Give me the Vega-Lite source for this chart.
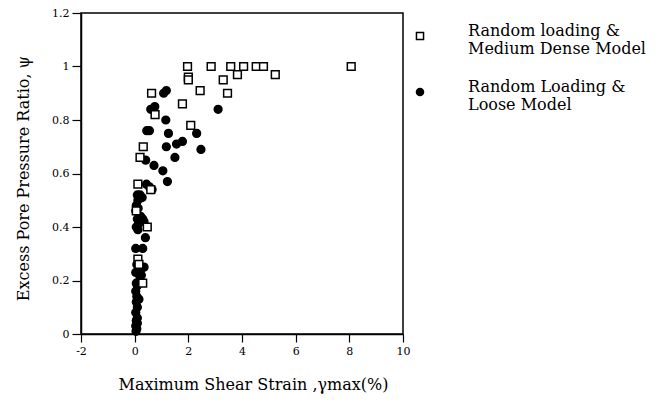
{
  "$schema": "https://vega.github.io/schema/vega-lite/v6.json",
  "width": 322,
  "height": 321,
  "autosize": {"type": "none"},
  "padding": {"left": 81, "top": 13, "right": 258, "bottom": 68},
  "background": "white",
  "config": {
    "font": "DejaVu Serif",
    "view": {"stroke": "black", "strokeWidth": 1.5},
    "axis": {
      "grid": false,
      "domainColor": "black",
      "domainWidth": 1.5,
      "tickColor": "black",
      "tickWidth": 1.2,
      "labelColor": "black",
      "titleColor": "black",
      "labelFont": "DejaVu Serif",
      "titleFont": "DejaVu Serif",
      "labelFontSize": 11,
      "titleFontSize": 16,
      "titleFontWeight": "normal",
      "labelFlush": false
    },
    "legend": {
      "title": null,
      "orient": "none",
      "legendX": 331,
      "legendY": 15,
      "padding": 0,
      "symbolSize": 50,
      "symbolStrokeWidth": 1.5,
      "labelOffset": 40,
      "labelLimit": 300,
      "labelBaseline": "alphabetic",
      "rowPadding": 22,
      "labelFont": "DejaVu Serif",
      "labelFontSize": 16,
      "labelColor": "black"
    }
  },
  "data": {
    "values": [
      {"model": "Random Loading & Loose Model", "strain": 1.08, "ratio": 0.90},
      {"model": "Random Loading & Loose Model", "strain": 1.18, "ratio": 0.91},
      {"model": "Random Loading & Loose Model", "strain": 3.11, "ratio": 0.84},
      {"model": "Random Loading & Loose Model", "strain": 0.60, "ratio": 0.84},
      {"model": "Random Loading & Loose Model", "strain": 0.75, "ratio": 0.85},
      {"model": "Random Loading & Loose Model", "strain": 1.16, "ratio": 0.80},
      {"model": "Random Loading & Loose Model", "strain": 0.45, "ratio": 0.76},
      {"model": "Random Loading & Loose Model", "strain": 0.55, "ratio": 0.76},
      {"model": "Random Loading & Loose Model", "strain": 1.26, "ratio": 0.75},
      {"model": "Random Loading & Loose Model", "strain": 2.31, "ratio": 0.75},
      {"model": "Random Loading & Loose Model", "strain": 1.18, "ratio": 0.70},
      {"model": "Random Loading & Loose Model", "strain": 1.56, "ratio": 0.71},
      {"model": "Random Loading & Loose Model", "strain": 1.78, "ratio": 0.72},
      {"model": "Random Loading & Loose Model", "strain": 2.47, "ratio": 0.69},
      {"model": "Random Loading & Loose Model", "strain": 1.50, "ratio": 0.66},
      {"model": "Random Loading & Loose Model", "strain": 0.41, "ratio": 0.65},
      {"model": "Random Loading & Loose Model", "strain": 0.72, "ratio": 0.63},
      {"model": "Random Loading & Loose Model", "strain": 1.05, "ratio": 0.61},
      {"model": "Random Loading & Loose Model", "strain": 1.22, "ratio": 0.57},
      {"model": "Random Loading & Loose Model", "strain": 0.44, "ratio": 0.56},
      {"model": "Random Loading & Loose Model", "strain": 0.55, "ratio": 0.55},
      {"model": "Random Loading & Loose Model", "strain": 0.65, "ratio": 0.54},
      {"model": "Random Loading & Loose Model", "strain": 0.10, "ratio": 0.52},
      {"model": "Random Loading & Loose Model", "strain": 0.20, "ratio": 0.52},
      {"model": "Random Loading & Loose Model", "strain": 0.28, "ratio": 0.51},
      {"model": "Random Loading & Loose Model", "strain": 0.12, "ratio": 0.50},
      {"model": "Random Loading & Loose Model", "strain": 0.06, "ratio": 0.48},
      {"model": "Random Loading & Loose Model", "strain": 0.13, "ratio": 0.47},
      {"model": "Random Loading & Loose Model", "strain": 0.04, "ratio": 0.46},
      {"model": "Random Loading & Loose Model", "strain": 0.22, "ratio": 0.44},
      {"model": "Random Loading & Loose Model", "strain": 0.10, "ratio": 0.43},
      {"model": "Random Loading & Loose Model", "strain": 0.30, "ratio": 0.43},
      {"model": "Random Loading & Loose Model", "strain": 0.35, "ratio": 0.42},
      {"model": "Random Loading & Loose Model", "strain": 0.14, "ratio": 0.41},
      {"model": "Random Loading & Loose Model", "strain": 0.06, "ratio": 0.40},
      {"model": "Random Loading & Loose Model", "strain": 0.12, "ratio": 0.39},
      {"model": "Random Loading & Loose Model", "strain": 0.40, "ratio": 0.36},
      {"model": "Random Loading & Loose Model", "strain": 0.04, "ratio": 0.32},
      {"model": "Random Loading & Loose Model", "strain": 0.30, "ratio": 0.32},
      {"model": "Random Loading & Loose Model", "strain": 0.08, "ratio": 0.26},
      {"model": "Random Loading & Loose Model", "strain": 0.35, "ratio": 0.25},
      {"model": "Random Loading & Loose Model", "strain": 0.22, "ratio": 0.24},
      {"model": "Random Loading & Loose Model", "strain": 0.04, "ratio": 0.23},
      {"model": "Random Loading & Loose Model", "strain": 0.25, "ratio": 0.22},
      {"model": "Random Loading & Loose Model", "strain": 0.20, "ratio": 0.21},
      {"model": "Random Loading & Loose Model", "strain": 0.06, "ratio": 0.19},
      {"model": "Random Loading & Loose Model", "strain": 0.10, "ratio": 0.18},
      {"model": "Random Loading & Loose Model", "strain": 0.04, "ratio": 0.16},
      {"model": "Random Loading & Loose Model", "strain": 0.08, "ratio": 0.14},
      {"model": "Random Loading & Loose Model", "strain": 0.16, "ratio": 0.13},
      {"model": "Random Loading & Loose Model", "strain": 0.06, "ratio": 0.12},
      {"model": "Random Loading & Loose Model", "strain": 0.10, "ratio": 0.10},
      {"model": "Random Loading & Loose Model", "strain": 0.04, "ratio": 0.08},
      {"model": "Random Loading & Loose Model", "strain": 0.10, "ratio": 0.06},
      {"model": "Random Loading & Loose Model", "strain": 0.06, "ratio": 0.05},
      {"model": "Random Loading & Loose Model", "strain": 0.10, "ratio": 0.04},
      {"model": "Random Loading & Loose Model", "strain": 0.04, "ratio": 0.03},
      {"model": "Random Loading & Loose Model", "strain": 0.08, "ratio": 0.02},
      {"model": "Random Loading & Loose Model", "strain": 0.05, "ratio": 0.01},
      {"model": "Random loading & Medium Dense Model", "strain": 0.12, "ratio": 0.56},
      {"model": "Random loading & Medium Dense Model", "strain": 0.60, "ratio": 0.54},
      {"model": "Random loading & Medium Dense Model", "strain": 0.20, "ratio": 0.66},
      {"model": "Random loading & Medium Dense Model", "strain": 0.32, "ratio": 0.70},
      {"model": "Random loading & Medium Dense Model", "strain": 0.63, "ratio": 0.90},
      {"model": "Random loading & Medium Dense Model", "strain": 0.76, "ratio": 0.82},
      {"model": "Random loading & Medium Dense Model", "strain": 1.78, "ratio": 0.86},
      {"model": "Random loading & Medium Dense Model", "strain": 2.09, "ratio": 0.78},
      {"model": "Random loading & Medium Dense Model", "strain": 1.97, "ratio": 1.00},
      {"model": "Random loading & Medium Dense Model", "strain": 2.00, "ratio": 0.96},
      {"model": "Random loading & Medium Dense Model", "strain": 2.00, "ratio": 0.95},
      {"model": "Random loading & Medium Dense Model", "strain": 2.44, "ratio": 0.91},
      {"model": "Random loading & Medium Dense Model", "strain": 2.85, "ratio": 1.00},
      {"model": "Random loading & Medium Dense Model", "strain": 3.30, "ratio": 0.95},
      {"model": "Random loading & Medium Dense Model", "strain": 3.46, "ratio": 0.90},
      {"model": "Random loading & Medium Dense Model", "strain": 3.58, "ratio": 1.00},
      {"model": "Random loading & Medium Dense Model", "strain": 3.83, "ratio": 0.97},
      {"model": "Random loading & Medium Dense Model", "strain": 4.06, "ratio": 1.00},
      {"model": "Random loading & Medium Dense Model", "strain": 4.53, "ratio": 1.00},
      {"model": "Random loading & Medium Dense Model", "strain": 4.80, "ratio": 1.00},
      {"model": "Random loading & Medium Dense Model", "strain": 5.24, "ratio": 0.97},
      {"model": "Random loading & Medium Dense Model", "strain": 8.07, "ratio": 1.00},
      {"model": "Random loading & Medium Dense Model", "strain": 0.06, "ratio": 0.46},
      {"model": "Random loading & Medium Dense Model", "strain": 0.47, "ratio": 0.40},
      {"model": "Random loading & Medium Dense Model", "strain": 0.12, "ratio": 0.28},
      {"model": "Random loading & Medium Dense Model", "strain": 0.16, "ratio": 0.26},
      {"model": "Random loading & Medium Dense Model", "strain": 0.30, "ratio": 0.19}
    ]
  },
  "mark": {"type": "point", "filled": true, "strokeWidth": 1.5, "opacity": 1, "size": 60},
  "encoding": {
    "x": {
      "field": "strain",
      "type": "quantitative",
      "scale": {"domain": [-2, 10], "nice": false, "zero": false},
      "axis": {
        "values": [-2, 0, 2, 4, 6, 8, 10],
        "tickSize": 8,
        "labelPadding": 3,
        "labelExpr": "'' + datum.value",
        "title": "Maximum Shear Strain ,γmax(%)",
        "titleX": 172,
        "titleY": 55,
        "titleBaseline": "alphabetic",
        "titleAnchor": "middle",
        "titleAlign": "center"
      }
    },
    "y": {
      "field": "ratio",
      "type": "quantitative",
      "scale": {"domain": [0, 1.2], "nice": false},
      "axis": {
        "values": [0, 0.2, 0.4, 0.6, 0.8, 1, 1.2],
        "format": "~g",
        "tickSize": 9,
        "labelPadding": 3,
        "title": "Excess Pore Pressure Ratio, ψ",
        "titleX": -53,
        "titleY": 165,
        "titleBaseline": "alphabetic",
        "titleAngle": -90,
        "titleAlign": "center"
      }
    },
    "shape": {
      "field": "model",
      "type": "nominal",
      "scale": {"domain": ["Random loading & Medium Dense Model", "Random Loading & Loose Model"], "range": ["square", "circle"]},
      "legend": {
        "labelExpr": "datum.label == 'Random Loading & Loose Model' ? ['Random Loading &', 'Loose Model'] : ['Random loading &', 'Medium Dense Model']",
        "encode": {"labels": {"update": {"dy": {"value": 3}}}}
      }
    },
    "fill": {
      "field": "model",
      "type": "nominal",
      "scale": {"domain": ["Random loading & Medium Dense Model", "Random Loading & Loose Model"], "range": ["white", "black"]},
      "legend": {
        "labelExpr": "datum.label == 'Random Loading & Loose Model' ? ['Random Loading &', 'Loose Model'] : ['Random loading &', 'Medium Dense Model']",
        "encode": {"labels": {"update": {"dy": {"value": 3}}}}
      }
    },
    "stroke": {
      "field": "model",
      "type": "nominal",
      "scale": {"domain": ["Random loading & Medium Dense Model", "Random Loading & Loose Model"], "range": ["black", "black"]},
      "legend": {
        "labelExpr": "datum.label == 'Random Loading & Loose Model' ? ['Random Loading &', 'Loose Model'] : ['Random loading &', 'Medium Dense Model']",
        "encode": {"labels": {"update": {"dy": {"value": 3}}}}
      }
    }
  }
}
